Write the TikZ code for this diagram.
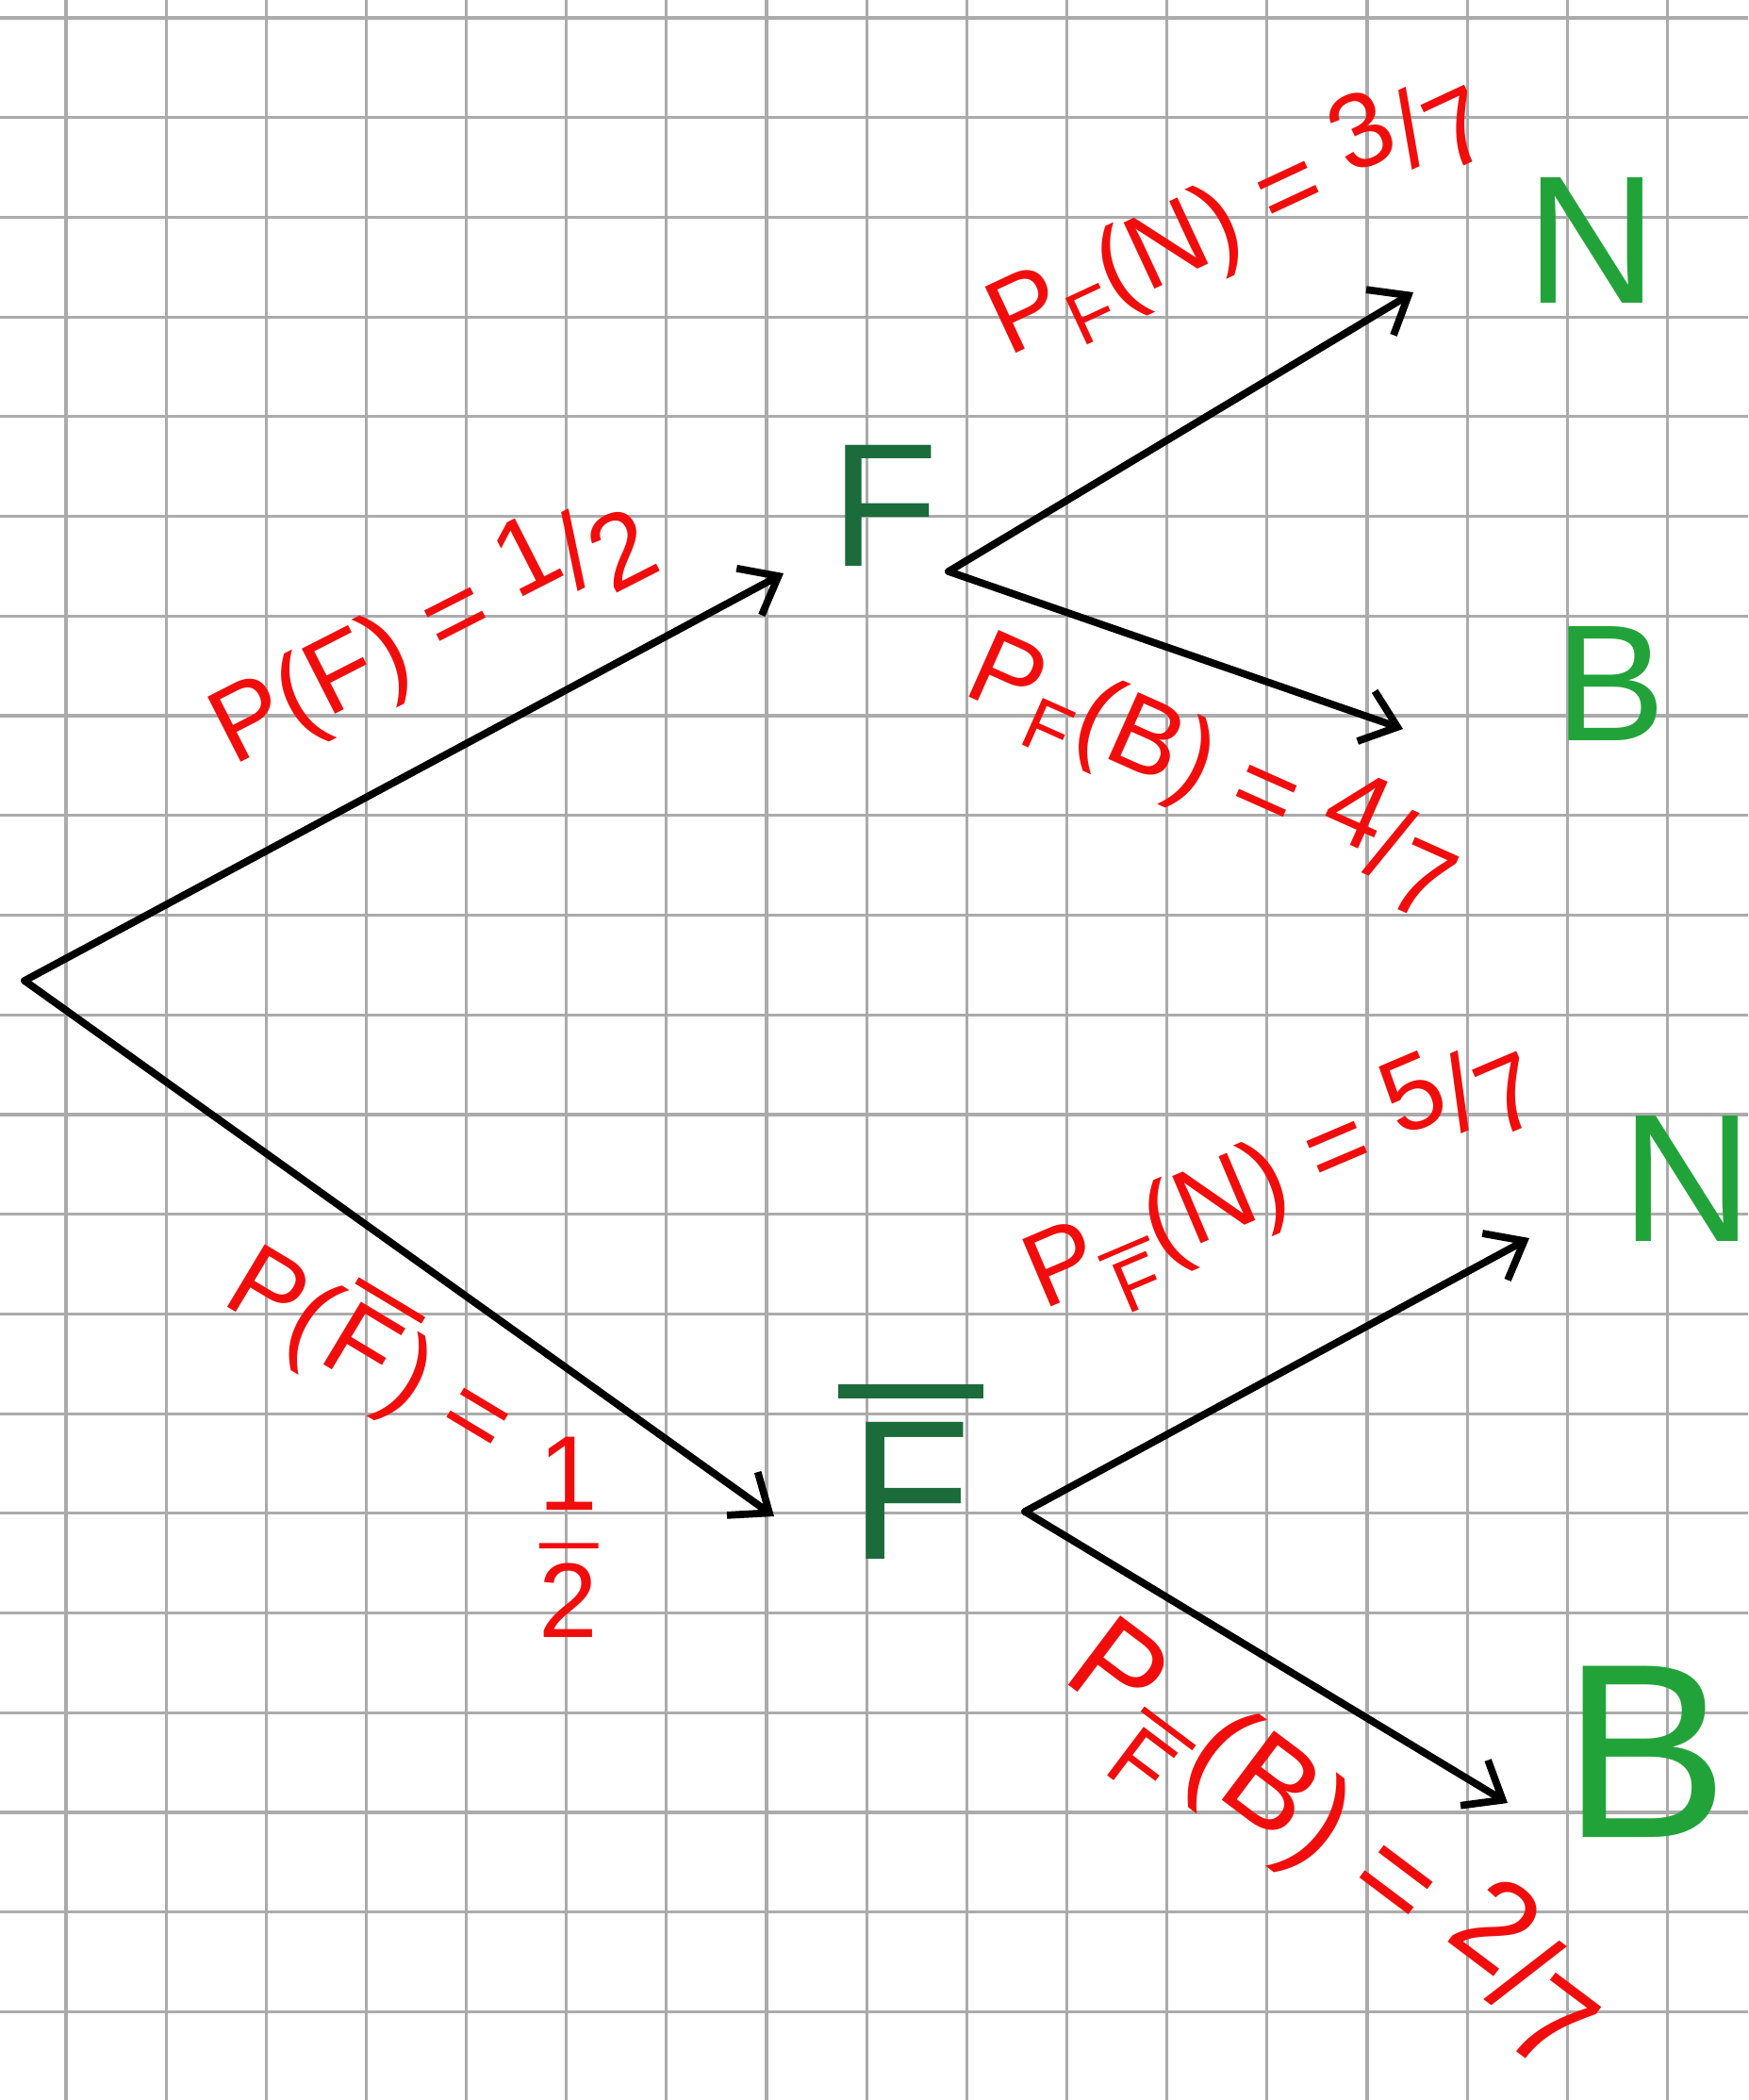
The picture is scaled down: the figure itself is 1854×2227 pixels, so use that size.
\documentclass[tikz,border=0pt]{standalone}
\usepackage{amsmath}
\usepackage{fontspec}
\setmainfont{Liberation Sans}
\usetikzlibrary{arrows.meta}
\definecolor{gridgray}{HTML}{ABABAB}
\definecolor{inkred}{HTML}{F20D0D}
\definecolor{darkgreen}{HTML}{1B6B3B}
\definecolor{lightgreen}{HTML}{22A33A}
\newcommand{\Fbar}{\leavevmode\hbox{\vbox{\hrule height 0.07em\kern0.12em\hbox{\kern0.06em F\kern0.06em}}}}
\newcommand{\slfrac}[2]{\raisebox{0.35ex}{#1}/\raisebox{-0.35ex}{#2}}
\newcommand{\stfrac}[2]{$\genfrac{}{}{1.5pt}{0}{\mbox{#1}}{\mbox{#2}}$}
\begin{document}
\begin{tikzpicture}[x=0.01cm,y=-0.01cm,
  gridline/.style={draw=gridgray,line width=0.9pt},
  branch/.style={draw=black,line width=2.2pt,line cap=round,-{Straight Barb[length=10pt,width=16pt]}},
  problabel/.style={text=inkred,font=\fontsize{32}{38}\selectfont,inner sep=0pt},
  event/.style={text=lightgreen,inner sep=0pt},
  mainevent/.style={text=darkgreen,inner sep=0pt}]
\useasboundingbox (0,0) rectangle (1854,2227);
\fill[white] (0,0) rectangle (1854,2227);
% grid
\foreach \i in {-1,...,17} \draw[gridline] ({70+\i*106.15},0) -- ({70+\i*106.15},2227);
\foreach \j in {0,...,20} \draw[gridline] (0,{19+\j*105.72}) -- (1854,{19+\j*105.72});
% events
\node[mainevent,font=\fontsize{53}{60}\selectfont] (F) at (938,536) {F};
\node[mainevent,font=\fontsize{60}{66}\selectfont] (Fb) at (966,1561) {\Fbar};
\node[event,font=\fontsize{55}{62}\selectfont] (N1) at (1688,255) {N};
\node[event,font=\fontsize{50}{56}\selectfont] (B1) at (1708,725) {B};
\node[event,font=\fontsize{55}{62}\selectfont] (N2) at (1789,1250) {N};
\node[event,font=\fontsize{75}{82}\selectfont] (B2) at (1745,1858) {B};
% branch points
\coordinate (root) at (26,1040);
\coordinate (Fin) at (831,608);
\coordinate (Fbin) at (821,1608);
\coordinate (Fout) at (1006,606);
\coordinate (Fbout) at (1087,1603);
\coordinate (N1in) at (1499,310);
\coordinate (B1in) at (1488,773);
\coordinate (N2in) at (1622,1313);
\coordinate (B2in) at (1599,1912);
% branches
\draw[branch] (root) -- (Fin);
\draw[branch] (root) -- (Fbin);
\draw[branch] (Fout) -- (N1in);
\draw[branch] (Fout) -- (B1in);
\draw[branch] (Fbout) -- (N2in);
\draw[branch] (Fbout) -- (B2in);
% probabilities
\node[problabel,rotate=27] (L1) at (455,665) {P(F) = \slfrac{1}{2}};
\node[problabel,rotate=-31] (L2) at (452,1532) {P(\Fbar) = \raisebox{-0.6em}{\rotatebox{31}{\stfrac{1}{2}}}};
\node[problabel,rotate=25] (L3) at (1310,225) {P\textsubscript{F}(N) = \slfrac{3}{7}};
\node[problabel,rotate=-24] (L4) at (1290,815) {P\textsubscript{F}(B) = \slfrac{4}{7}};
\node[problabel,rotate=23] (L5) at (1360,1250) {P\textsubscript{\Fbar}(N) = \slfrac{5}{7}};
\node[problabel,rotate=-37,font=\fontsize{38}{44}\selectfont] (L6) at (1414,1957) {P\textsubscript{\Fbar}(B) = \slfrac{2}{7}};
\end{tikzpicture}
\end{document}
